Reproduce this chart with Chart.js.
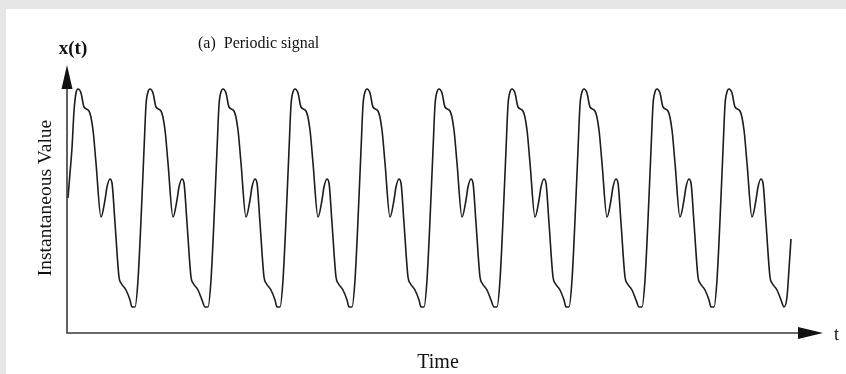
<!DOCTYPE html>
<html>
<head>
<meta charset="utf-8">
<script src="https://cdn.jsdelivr.net/npm/chart.js@4.4.1/dist/chart.umd.min.js"></script>
<style>
  html, body { margin: 0; padding: 0; background: #e6e6e6; }
  #wrap { position: relative; width: 846px; height: 374px; overflow: hidden; }
  #paper { position: absolute; left: 6px; top: 9px; width: 840px; height: 365px; background: #fff; }
  #chart { position: absolute; left: 0; top: 0; }
</style>
</head>
<body>
<div id="wrap">
  <div id="paper"></div>
  <canvas id="chart" width="846" height="374"></canvas>
</div>
<script>
// texts
const titleText = '(a)  Periodic signal';
const yAxisSymbol = 'x(t)';
const xAxisSymbol = 't';
const xAxisLabel = 'Time';
const yAxisLabel = 'Instantaneous Value';

// axis ranges (time units / signal units)
const timeMax = 756;
const valueMax = 268;

// signal samples, one row per cycle
const timeValues = [
  1, 3, 5, 7, 9, 11, 14, 17, 22, 26, 29, 34, 38, 40, 43, 45, 48, 52, 54, 59, 63,
  65, 68, 71, 74, 77, 79, 81, 83, 86, 89, 94, 98, 101, 106, 110, 112, 115, 117, 120, 124, 126, 131, 135,
  138, 141, 144, 147, 150, 152, 154, 156, 159, 162, 167, 171, 174, 179, 183, 185, 188, 190, 193, 197, 199, 204, 208,
  210, 213, 216, 219, 222, 224, 226, 228, 231, 234, 239, 243, 246, 251, 255, 257, 260, 262, 265, 269, 271, 276, 280,
  282, 285, 288, 291, 294, 296, 298, 300, 303, 306, 311, 315, 318, 323, 327, 329, 332, 334, 337, 341, 343, 348, 352,
  354, 357, 360, 363, 366, 368, 370, 372, 375, 378, 383, 387, 390, 395, 399, 401, 404, 406, 409, 413, 415, 420, 424,
  427, 430, 433, 436, 439, 441, 443, 445, 448, 451, 456, 460, 463, 468, 472, 474, 477, 479, 482, 486, 488, 493, 497,
  499, 502, 505, 508, 511, 513, 515, 517, 520, 523, 528, 532, 535, 540, 544, 546, 549, 551, 554, 558, 560, 565, 569,
  572, 575, 578, 581, 584, 586, 588, 590, 593, 596, 601, 605, 608, 613, 617, 619, 622, 624, 627, 631, 633, 638, 642,
  644, 647, 650, 653, 656, 658, 660, 662, 665, 668, 673, 677, 680, 685, 689, 691, 694, 696, 699, 703, 705, 710, 714,
  717, 720, 722, 724
];
const signalValues = [
  135, 160, 185, 222, 240, 244, 240, 226, 222, 203, 170, 116, 133, 146, 154, 150, 110, 56, 50, 43, 33,
  26, 26, 53, 113, 183, 228, 241, 244, 240, 226, 222, 203, 170, 116, 133, 146, 154, 150, 110, 56, 50, 43, 33,
  26, 26, 53, 113, 183, 228, 241, 244, 240, 226, 222, 203, 170, 116, 133, 146, 154, 150, 110, 56, 50, 43, 33,
  26, 26, 53, 113, 183, 228, 241, 244, 240, 226, 222, 203, 170, 116, 133, 146, 154, 150, 110, 56, 50, 43, 33,
  26, 26, 53, 113, 183, 228, 241, 244, 240, 226, 222, 203, 170, 116, 133, 146, 154, 150, 110, 56, 50, 43, 33,
  26, 26, 53, 113, 183, 228, 241, 244, 240, 226, 222, 203, 170, 116, 133, 146, 154, 150, 110, 56, 50, 43, 33,
  26, 26, 53, 113, 183, 228, 241, 244, 240, 226, 222, 203, 170, 116, 133, 146, 154, 150, 110, 56, 50, 43, 33,
  26, 26, 53, 113, 183, 228, 241, 244, 240, 226, 222, 203, 170, 116, 133, 146, 154, 150, 110, 56, 50, 43, 33,
  26, 26, 53, 113, 183, 228, 241, 244, 240, 226, 222, 203, 170, 116, 133, 146, 154, 150, 110, 56, 50, 43, 33,
  26, 26, 53, 113, 183, 228, 241, 244, 240, 226, 222, 203, 170, 116, 133, 146, 154, 150, 110, 56, 50, 43, 33,
  26, 36, 64, 94
];

const points = timeValues.map((t, i) => ({ x: t, y: signalValues[i] }));

// axis lines with arrow heads + labels
const arrowAxes = {
  id: 'arrowAxes',
  afterDraw(chart) {
    const { ctx, scales } = chart;
    const x0 = scales.x.getPixelForValue(0);
    const x1 = scales.x.getPixelForValue(timeMax);
    const y0 = scales.y.getPixelForValue(0);
    const y1 = scales.y.getPixelForValue(valueMax);
    ctx.save();
    ctx.strokeStyle = '#3a3a3a';
    ctx.fillStyle = '#111';
    ctx.lineWidth = 1.6;
    ctx.beginPath();
    ctx.moveTo(x0, y1 + 10);
    ctx.lineTo(x0, y0);
    ctx.lineTo(x1 - 10, y0);
    ctx.stroke();
    // y arrow
    ctx.beginPath();
    ctx.moveTo(x0, y1);
    ctx.lineTo(x0 - 5.5, y1 + 24);
    ctx.lineTo(x0 + 5.5, y1 + 24);
    ctx.closePath();
    ctx.fill();
    // x arrow
    ctx.beginPath();
    ctx.moveTo(x1, y0);
    ctx.lineTo(x1 - 25, y0 - 6);
    ctx.lineTo(x1 - 25, y0 + 6);
    ctx.closePath();
    ctx.fill();

    ctx.fillStyle = '#111';
    ctx.textBaseline = 'alphabetic';
    ctx.font = 'bold 19px "Liberation Serif", serif';
    ctx.textAlign = 'center';
    ctx.fillText(yAxisSymbol, x0 + 6, 54);
    ctx.font = '16px "Liberation Serif", serif';
    ctx.textAlign = 'left';
    ctx.fillText(titleText, 198, 48);
    ctx.font = '18px "Liberation Serif", serif';
    ctx.fillText(xAxisSymbol, x1 + 11, y0 + 7);
    ctx.font = '20px "Liberation Serif", serif';
    ctx.textAlign = 'center';
    ctx.fillText(xAxisLabel, 438, 368);
    ctx.save();
    ctx.translate(51, 198);
    ctx.rotate(-Math.PI / 2);
    ctx.font = '19.5px "Liberation Serif", serif';
    ctx.fillText(yAxisLabel, 0, 0);
    ctx.restore();
    ctx.restore();
  }
};

new Chart(document.getElementById('chart'), {
  type: 'line',
  data: {
    datasets: [{
      data: points,
      borderColor: '#1c1c1c',
      borderWidth: 1.6,
      pointRadius: 0,
      fill: false,
      cubicInterpolationMode: 'monotone'
    }]
  },
  options: {
    responsive: false,
    animation: false,
    devicePixelRatio: 1,
    layout: { padding: { left: 67, right: 23, top: 65, bottom: 41 } },
    scales: {
      x: { type: 'linear', min: 0, max: timeMax, display: false },
      y: { min: 0, max: valueMax, display: false }
    },
    plugins: { legend: { display: false }, tooltip: { enabled: false } }
  },
  plugins: [arrowAxes]
});
</script>
</body>
</html>
